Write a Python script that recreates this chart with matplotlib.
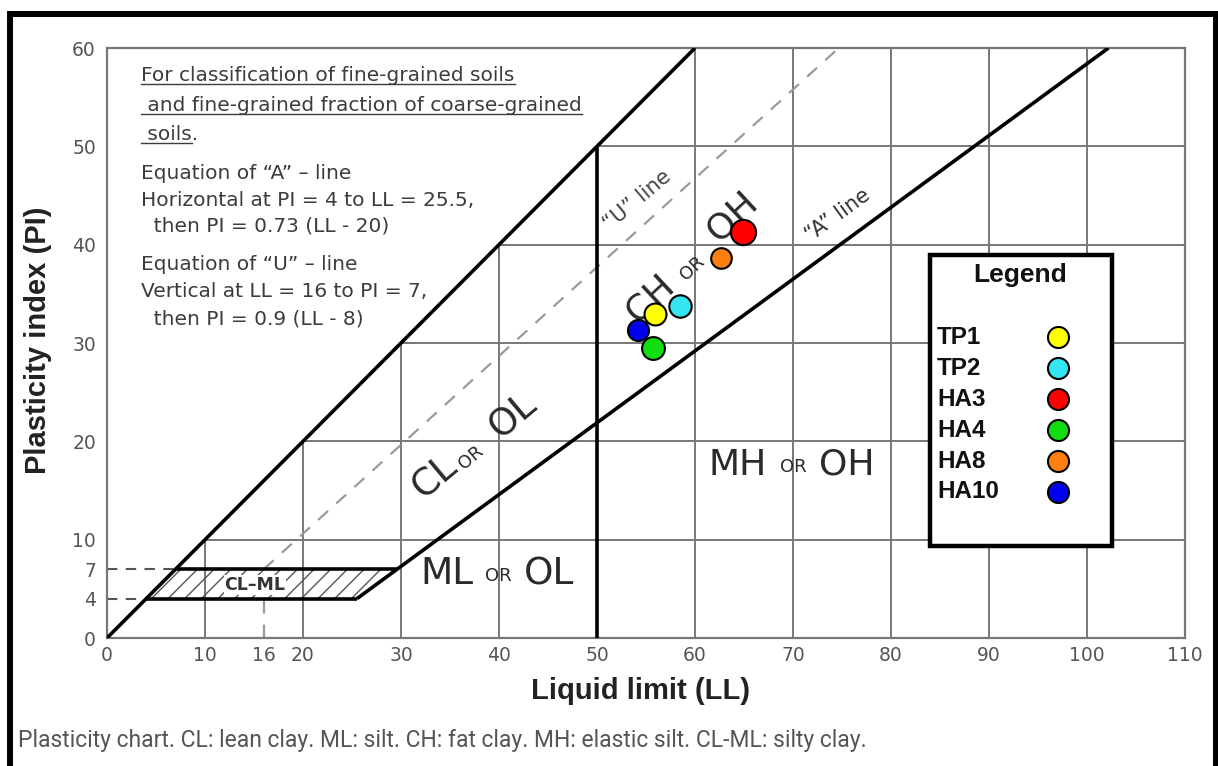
import matplotlib
matplotlib.use("Agg")
import matplotlib.pyplot as plt
from matplotlib.patches import Polygon, Rectangle
from matplotlib.lines import Line2D
import numpy as np

# test results
samples = ["TP1", "TP2", "HA3", "HA4", "HA8", "HA10"]
liquid_limit = [55.9, 58.5, 64.9, 55.7, 62.7, 54.2]
plasticity_index = [33.0, 33.8, 41.3, 29.5, 38.6, 31.3]
colors = ["#ffff00", "#33e6f2", "#ff0000", "#11dd11", "#ff8010", "#0000ee"]
sizes = [250, 260, 330, 270, 220, 230]

# chart boundaries
upper_ll = [0, 60]
upper_pi = [0, 60]
a_line_ll = [25.5, 102.19]
a_line_pi = [4, 60]
u_line_ll = [16, 74.67]
u_line_pi = [7, 60]
u_vert_ll = [16, 16]
u_vert_pi = [0, 4]
clml_ll = [4, 25.5, 29.59, 7]
clml_pi = [4, 4, 7, 7]
ll_50 = [50, 50]
pi_50 = [0, 50]

x_ticks = [0, 10, 16, 20, 30, 40, 50, 60, 70, 80, 90, 100, 110]
y_ticks = [0, 4, 7, 10, 20, 30, 40, 50, 60]

fig = plt.figure(figsize=(12.18, 7.66), dpi=100)
ax = fig.add_axes([107 / 1218, 1 - 638 / 766, 1078 / 1218, 590 / 766])
ax.set_xlim(0, 110)
ax.set_ylim(0, 60)

grey = "#777777"
for s in ax.spines.values():
    s.set_color(grey)
    s.set_linewidth(1.6)

# grid only right of the PI = LL line
gx = np.array([10, 20, 30, 40, 60, 70, 80, 90, 100])
ax.vlines(gx, 0, np.minimum(gx, 60), color=grey, lw=1.4, zorder=1)
gy = np.array([10, 20, 30, 40, 50])
ax.hlines(gy, gy, 110, color=grey, lw=1.4, zorder=1)

ax.set_xticks(x_ticks)
ax.set_yticks(y_ticks)
ax.tick_params(axis="x", length=0, pad=6, labelsize=13.5, labelcolor="#555555")
ax.tick_params(axis="y", direction="in", length=9, width=1.5, color=grey,
               pad=8, labelsize=13.5, labelcolor="#555555")
for t in ax.yaxis.get_major_ticks():
    if t.get_loc() in (0, 4, 7, 60):
        t.tick1line.set_visible(False)

# dashed helper lines
ax.plot(u_line_ll, u_line_pi, color="#9a9a9a", lw=1.6, ls=(0, (6, 5)), zorder=2)
ax.plot(u_vert_ll, u_vert_pi, color="#9a9a9a", lw=1.6, ls=(0, (6, 5)), zorder=2)
ax.plot([0, 7], [7, 7], color="#555555", lw=1.5, ls=(0, (5, 4)), zorder=2)
ax.plot([0, 4], [4, 4], color="#555555", lw=1.5, ls=(0, (5, 4)), zorder=2)

# CL-ML zone
ax.add_patch(Polygon(list(zip(clml_ll, clml_pi)), closed=True, facecolor="none",
                     edgecolor="#555555", hatch="//", lw=0, zorder=2))
ax.text(15.1, 5.4, "CL\u2013ML", ha="center", va="center", fontsize=12.5,
        fontweight="bold", color="#333333", zorder=3,
        bbox=dict(facecolor="white", edgecolor="none", pad=0.5))

# heavy lines
kw = dict(color="black", lw=2.6, zorder=4, solid_capstyle="butt")
ax.plot(upper_ll, upper_pi, **kw)
ax.plot(a_line_ll, a_line_pi, **kw)
ax.plot(ll_50, pi_50, **kw)
ax.plot(clml_ll[:2], clml_pi[:2], **kw)
ax.plot(clml_ll[2:], clml_pi[2:], **kw)

# zone labels
dark = "#2a2a2a"
def zone(parts, rot):
    for (txt, x, y, fs) in parts:
        ax.text(x, y, txt, rotation=rot, ha="center", va="center",
                fontsize=fs, color=dark, zorder=3)

zone([("CL", 33.5, 16.4, 27), ("OR", 37.1, 18.3, 13), ("OL", 41.5, 22.6, 27)], 40)
zone([("ML", 34.7, 6.5, 27), ("OR", 39.9, 6.3, 13), ("OL", 45.1, 6.5, 27)], 0)
zone([("MH", 64.4, 17.6, 26), ("OR", 70.0, 17.4, 13), ("OH", 75.5, 17.6, 26)], 0)
zone([("CH", 55.4, 34.5, 26), ("OR", 59.7, 37.6, 13), ("OH", 63.8, 42.9, 26)], 43)
ax.text(54.1, 44.5, "\u201cU\u201d line", rotation=40, ha="center", va="center",
        fontsize=15, color="#444444", zorder=3)
ax.text(74.6, 43.0, "\u201cA\u201d line", rotation=36, ha="center", va="center",
        fontsize=15, color="#333333", zorder=3)

# notes
note_color = "#3c3c3c"
notes = [
    ("For classification of fine-grained soils", 57.17, True),
    (" and fine-grained fraction of coarse-grained", 54.12, True),
    (" soils.", 51.17, True),
    ("Equation of \u201cA\u201d \u2013 line", 47.2, False),
    ("Horizontal at PI = 4 to LL = 25.5,", 44.46, False),
    ("  then PI = 0.73 (LL - 20)", 41.9, False),
    ("Equation of \u201cU\u201d \u2013 line", 37.94, False),
    ("Vertical at LL = 16 to PI = 7,", 35.2, False),
    ("  then PI = 0.9 (LL - 8)", 32.45, False),
]
note_texts = []
for txt, y, ul in notes:
    t = ax.text(3.52, y, txt, ha="left", va="center", fontsize=14.5,
                color=note_color, zorder=3)
    note_texts.append((t, ul))

# samples
for i in range(len(samples)):
    ax.scatter(liquid_limit[i], plasticity_index[i], s=sizes[i], c=colors[i],
               edgecolors="black", linewidths=1.5, zorder=6)

# legend box
ax.add_patch(Rectangle((84.0, 9.36), 18.55, 29.6, facecolor="white",
                       edgecolor="black", lw=3.2, zorder=7))
ax.text(93.2, 36.9, "Legend", ha="center", va="center", fontsize=19,
        fontweight="bold", family="Liberation Sans", color="#111111", zorder=8)
for i, name in enumerate(samples):
    yy = 30.6 - i * 3.15
    ax.text(84.7, yy, name, ha="left", va="center", fontsize=17.5,
            fontweight="bold", family="Liberation Sans", color="#111111", zorder=8)
    ax.scatter(97.0, yy, s=230, c=colors[i], edgecolors="black",
               linewidths=1.5, zorder=8)

# axis labels
fig.text(38 / 1218, 1 - 340 / 766, "Plasticity index (PI)", rotation=90,
         ha="center", va="center", fontsize=21, fontweight="bold",
         family="Liberation Sans", color="#222222")
fig.text(641 / 1218, 1 - 691 / 766, "Liquid limit (LL)", ha="center",
         va="center", fontsize=21, fontweight="bold", family="Liberation Sans",
         color="#222222")

fig.text(18 / 1218, 1 - 740 / 766,
         "Plasticity chart. CL: lean clay. ML: silt. CH: fat clay. MH: elastic silt. CL-ML: silty clay.",
         ha="left", va="center", fontsize=16.5, family="Roboto", color="#555555")

# outer frame
fig.patches.append(Rectangle((10 / 1218, -0.1), 1206 / 1218, 1.1 - 14 / 766,
                             transform=fig.transFigure, fill=False,
                             edgecolor="black", lw=4.3))

# underline the first three note lines
fig.canvas.draw()
r = fig.canvas.get_renderer()
for t, ul in note_texts:
    if not ul:
        continue
    bb = t.get_window_extent(r)
    x1 = bb.x1
    if t.get_text().endswith("."):
        tmp = ax.text(3.52, 0, t.get_text()[:-1], fontsize=14.5)
        x1 = bb.x0 + tmp.get_window_extent(r).width
        tmp.remove()
    yline = bb.y0 + 1
    fig.lines.append(Line2D([bb.x0, x1], [yline, yline], transform=None,
                            color=note_color, lw=1.0))

fig.savefig("out.png", dpi=100)
